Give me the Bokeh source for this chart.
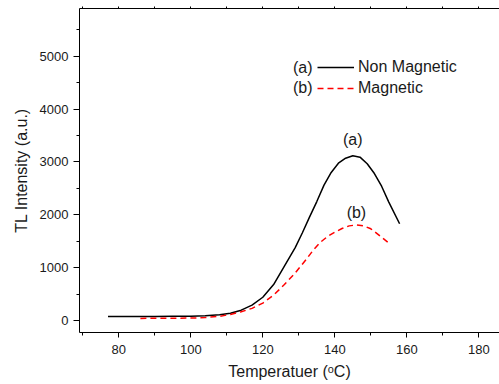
import numpy as np
from bokeh.plotting import figure
from bokeh.models import (LinearAxis, SingleIntervalTicker, FixedTicker, Legend, LegendItem, Label)
from bokeh.core.properties import value
from bokeh.embed import file_html
from bokeh.resources import INLINE

# Non magnetic (a)
temp_a = [77, 80, 85, 90, 95, 100, 104, 108, 111, 114, 117, 120, 123, 126, 129, 131,
          133, 135, 137, 139, 141, 143, 145, 147, 149, 151, 153, 155, 158]
tl_a = [78, 78, 78, 78, 79, 80, 88, 110, 138, 195, 290, 440, 680, 1030, 1380, 1660,
        1960, 2250, 2560, 2800, 2975, 3070, 3115, 3090, 2965, 2780, 2540, 2240, 1830]
# Magnetic (b)
temp_b = [86, 90, 95, 100, 104, 108, 111, 114, 117, 120, 123, 126, 129, 132, 134, 136,
          138, 140, 142, 144, 146, 148, 150, 152, 154, 155.5]
tl_b = [40, 42, 44, 46, 55, 80, 115, 165, 230, 330, 480, 680, 900, 1150, 1330, 1480,
        1590, 1670, 1740, 1790, 1808, 1790, 1735, 1630, 1520, 1435]

top_minor_ticks = [70, 80, 90, 100, 110, 120, 130, 140, 150, 160, 170, 180]

FONT = "Liberation Sans"
TXT = "#1a1a1a"

p = figure(width=499, height=384, x_range=(69.08, 185.75), y_range=(-227, 5902),
           output_backend="svg", toolbar_location=None,
           min_border_left=79, min_border_right=0, min_border_top=8, min_border_bottom=52,
           x_axis_location=None, y_axis_location=None)
p.xgrid.grid_line_color = None
p.ygrid.grid_line_color = None
p.outline_line_color = None
p.background_fill_color = "white"
p.border_fill_color = "white"

xt = SingleIntervalTicker(interval=20, num_minor_ticks=2)
yt = SingleIntervalTicker(interval=1000, num_minor_ticks=2)

def style(ax, tick_out, minor_out):
    ax.axis_line_color = "black"
    ax.major_tick_line_color = "black"
    ax.minor_tick_line_color = "black"
    ax.major_tick_in = 0
    ax.minor_tick_in = 0
    ax.major_tick_out = tick_out
    ax.minor_tick_out = minor_out
    ax.major_label_text_font = FONT
    ax.major_label_text_font_size = "13px"
    ax.major_label_text_color = TXT
    ax.axis_label_text_font = FONT
    ax.axis_label_text_font_size = "16px"
    ax.axis_label_text_font_style = "normal"
    ax.axis_label_text_color = TXT

xb = LinearAxis(ticker=xt, axis_label="Temperatuer (ᵒC)")
style(xb, 5, 3)
xb.major_label_standoff = 7
xb.axis_label_standoff = 6
p.add_layout(xb, "below")

yl = LinearAxis(ticker=yt, axis_label="TL Intensity (a.u.)")
style(yl, 6, 3)
yl.major_label_standoff = 5
yl.axis_label_standoff = 7
p.add_layout(yl, "left")

xa = LinearAxis(ticker=FixedTicker(ticks=[], minor_ticks=top_minor_ticks))
style(xa, 2, 2)
xa.major_label_standoff = 0
p.add_layout(xa, "above")

r1 = p.line(temp_a, tl_a, line_color="black", line_width=1.5)
r2 = p.line(temp_b, tl_b, line_color="#ff0000", line_width=1.5, line_dash="6 4")

legend = Legend(items=[LegendItem(label="Non Magnetic", renderers=[r1]),
                       LegendItem(label="Magnetic", renderers=[r2])],
                location=(238, 234), padding=0, margin=0, spacing=1,
                glyph_width=37, glyph_height=20, label_height=20, label_standoff=4,
                border_line_color=None, background_fill_alpha=0,
                label_text_font=FONT, label_text_font_size="16px",
                label_text_color=TXT)
p.add_layout(legend)

for txt, yy in (("(a)", 265.3), ("(b)", 244.7)):
    p.add_layout(Label(x=233, y=yy, x_units="screen", y_units="screen", text=txt,
                       text_align="right", text_baseline="middle", text_font=FONT,
                       text_font_size="16px", text_color=TXT))

ia = int(np.argmax(tl_a))
ib = int(np.argmax(tl_b))
p.text(x=[temp_a[ia]], y=[tl_a[ia]], text=["(a)"], y_offset=-16, text_align="center",
       text_baseline="middle", text_font=value(FONT), text_font_size="16px", text_color=TXT)
p.text(x=[temp_b[ib]], y=[tl_b[ib]], text=["(b)"], y_offset=-12, text_align="center",
       text_baseline="middle", text_font=value(FONT), text_font_size="16px", text_color=TXT)

open("out.html", "w").write(file_html(p, INLINE))
